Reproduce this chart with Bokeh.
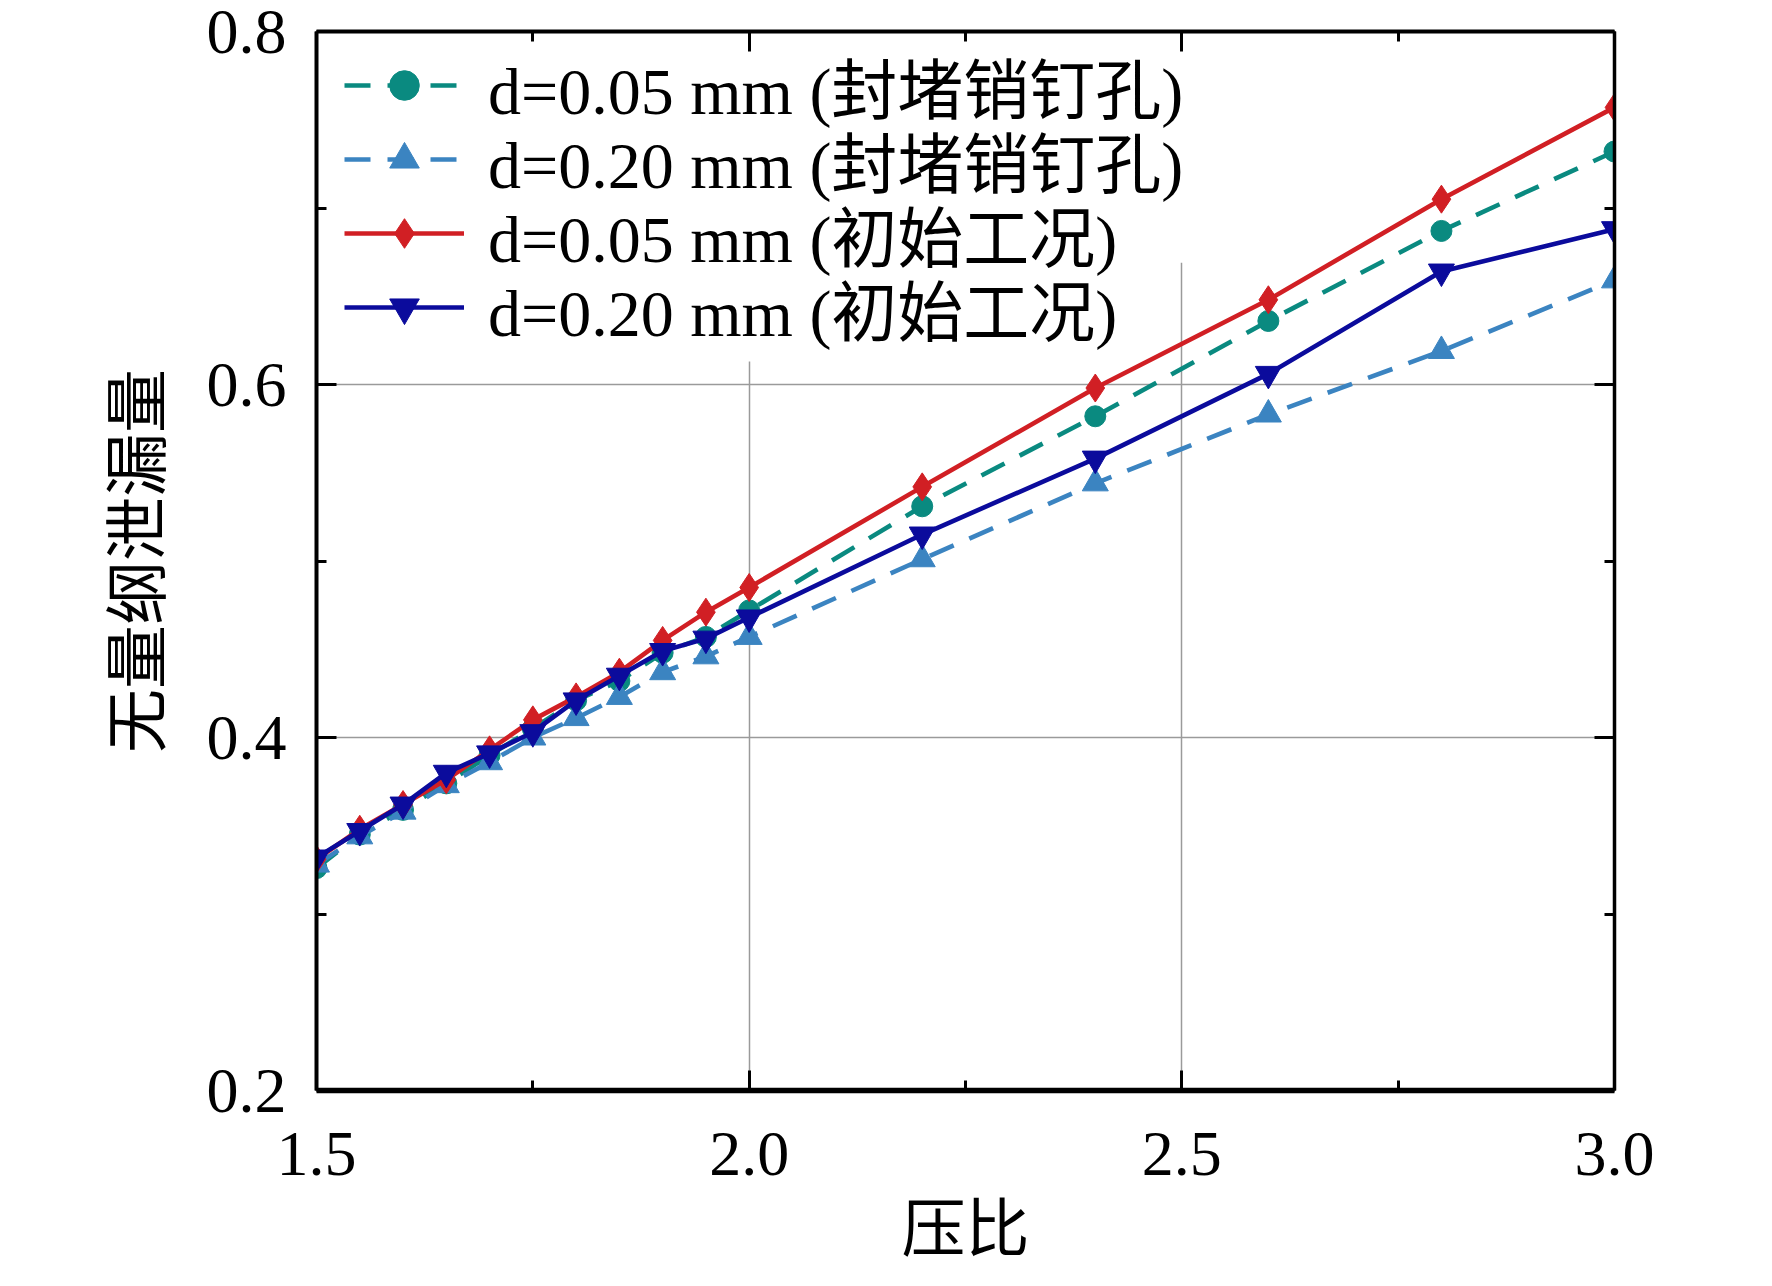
from bokeh.plotting import figure
from bokeh.models import (Range1d, FixedTicker, PrintfTickFormatter, LinearAxis,
                          Legend, LegendItem, CustomJSTickFormatter, BoxAnnotation)
from bokeh.embed import file_html
from bokeh.resources import INLINE

# ---- data ----
pressure_ratio = [1.5, 1.55, 1.6, 1.65, 1.7, 1.75, 1.8, 1.85, 1.9, 1.95, 2.0, 2.2, 2.4, 2.6, 2.8, 3.0]
blocked_005 = [0.326, 0.345, 0.359, 0.374, 0.390, 0.405, 0.421, 0.432, 0.448, 0.457, 0.472, 0.531, 0.582, 0.636, 0.687, 0.732]
blocked_020 = [0.328, 0.344, 0.358, 0.373, 0.386, 0.400, 0.411, 0.423, 0.437, 0.446, 0.457, 0.501, 0.544, 0.583, 0.619, 0.659]
initial_005 = [0.331, 0.348, 0.362, 0.376, 0.393, 0.410, 0.423, 0.437, 0.455, 0.471, 0.485, 0.542, 0.598, 0.648, 0.705, 0.757]
initial_020 = [0.332, 0.347, 0.362, 0.380, 0.391, 0.403, 0.421, 0.435, 0.449, 0.456, 0.468, 0.515, 0.558, 0.606, 0.664, 0.688]

labels = ["d=0.05 mm (封堵销钉孔)", "d=0.20 mm (封堵销钉孔)", "d=0.05 mm (初始工况)", "d=0.20 mm (初始工况)"]
x_major = [1.5, 2.0, 2.5, 3.0]
x_minor = [1.75, 2.25, 2.75]
y_major = [0.2, 0.4, 0.6, 0.8]
y_minor = [0.3, 0.5, 0.7]
x_title = "压比"
y_title = "无量纲泄漏量"

FONT = "Liberation Serif, Noto Sans CJK SC"

p = figure(width=1756, height=1270, output_backend="svg", toolbar_location=None,
           x_range=Range1d(1.5, 3.0), y_range=Range1d(0.2, 0.8),
           min_border_left=316, min_border_right=142, min_border_top=31, min_border_bottom=180)
p.background_fill_color = "white"
p.border_fill_color = "white"
p.outline_line_color = None

xt = FixedTicker(ticks=x_major, minor_ticks=x_minor)
yt = FixedTicker(ticks=y_major, minor_ticks=y_minor)

def style_axis(ax, lw):
    ax.axis_line_width = lw
    ax.axis_line_color = "black"
    ax.major_tick_in = 20
    ax.major_tick_out = 0
    ax.minor_tick_in = 10
    ax.minor_tick_out = 0
    ax.major_tick_line_width = 3
    ax.minor_tick_line_width = 3
    ax.major_tick_line_color = "black"
    ax.minor_tick_line_color = "black"
    ax.major_label_text_font = FONT
    ax.major_label_text_font_size = "64px"
    ax.major_label_text_color = "black"
    ax.axis_label_text_font = FONT
    ax.axis_label_text_font_style = "normal"
    ax.axis_label_text_font_size = "64px"
    ax.axis_label_text_color = "black"

p.xaxis.ticker = xt
p.yaxis.ticker = yt
p.xaxis.formatter = PrintfTickFormatter(format="%.1f")
p.yaxis.formatter = PrintfTickFormatter(format="%.1f")
style_axis(p.xaxis[0], 5.5)
style_axis(p.yaxis[0], 4)
p.xaxis.axis_label = x_title
p.yaxis.axis_label = y_title
p.xaxis.major_label_standoff = 42
p.yaxis.major_label_standoff = 30
p.xaxis.axis_label_standoff = 16
p.yaxis.axis_label_standoff = 30

blank = CustomJSTickFormatter(code="return ''")
top_ax = LinearAxis(ticker=xt, formatter=blank)
right_ax = LinearAxis(ticker=yt, formatter=blank)
style_axis(top_ax, 4)
style_axis(right_ax, 3.5)
for ax in (top_ax, right_ax):
    ax.major_label_text_font_size = "10px"
    ax.major_label_standoff = 0
p.add_layout(top_ax, "above")
p.add_layout(right_ax, "right")

p.xgrid.ticker = xt
p.ygrid.ticker = yt
p.grid.grid_line_color = "#9a9a9a"
p.grid.grid_line_width = 1.5

# white panel behind the legend (hides the grid there, stays under the data)
for rgt, btm in ((2.52, 0.669), (2.44, 0.613)):
    p.add_layout(BoxAnnotation(right=rgt, bottom=btm, fill_color="white", fill_alpha=1,
                               line_alpha=0, level="underlay"))

teal = "#0a8a80"
lblue = "#3b84c1"
red = "#d11f24"
navy = "#0b0b9c"

LW = 4.6
r1l = p.line(pressure_ratio, blocked_005, line_color=teal, line_width=LW, line_dash="26 17")
r1m = p.scatter(pressure_ratio, blocked_005, marker="circle", size=21, fill_color=teal, line_color=teal)
r2l = p.line(pressure_ratio, blocked_020, line_color=lblue, line_width=LW, line_dash="26 17")
r2m = p.scatter(pressure_ratio, blocked_020, marker="triangle", size=26, fill_color=lblue, line_color=lblue)
r3l = p.line(pressure_ratio, initial_005, line_color=red, line_width=LW)
r3m = p.scatter(pressure_ratio, initial_005, marker="diamond", size=28, fill_color=red, line_color=red)
r4l = p.line(pressure_ratio, initial_020, line_color=navy, line_width=LW)
r4m = p.scatter(pressure_ratio, initial_020, marker="inverted_triangle", size=26, fill_color=navy, line_color=navy)

entries = [(labels[0], [r1l, r1m]), (labels[1], [r2l, r2m]),
           (labels[2], [r3l, r3m]), (labels[3], [r4l, r4m])]
legend_bottoms = [951, 877, 803, 729]
for (lab, rends), vy in zip(entries, legend_bottoms):
    lg = Legend(items=[LegendItem(label=lab, renderers=rends)], location=(24, vy))
    lg.margin = 0
    lg.padding = 4
    lg.glyph_width = 120
    lg.glyph_height = 74
    lg.label_height = 100
    lg.spacing = 0
    lg.label_standoff = 24
    lg.label_text_font = FONT
    lg.label_text_font_size = "66px"
    lg.label_text_color = "black"
    lg.border_line_alpha = 0
    lg.background_fill_alpha = 0
    p.add_layout(lg, "center")

open("out.html", "w").write(file_html(p, INLINE))
